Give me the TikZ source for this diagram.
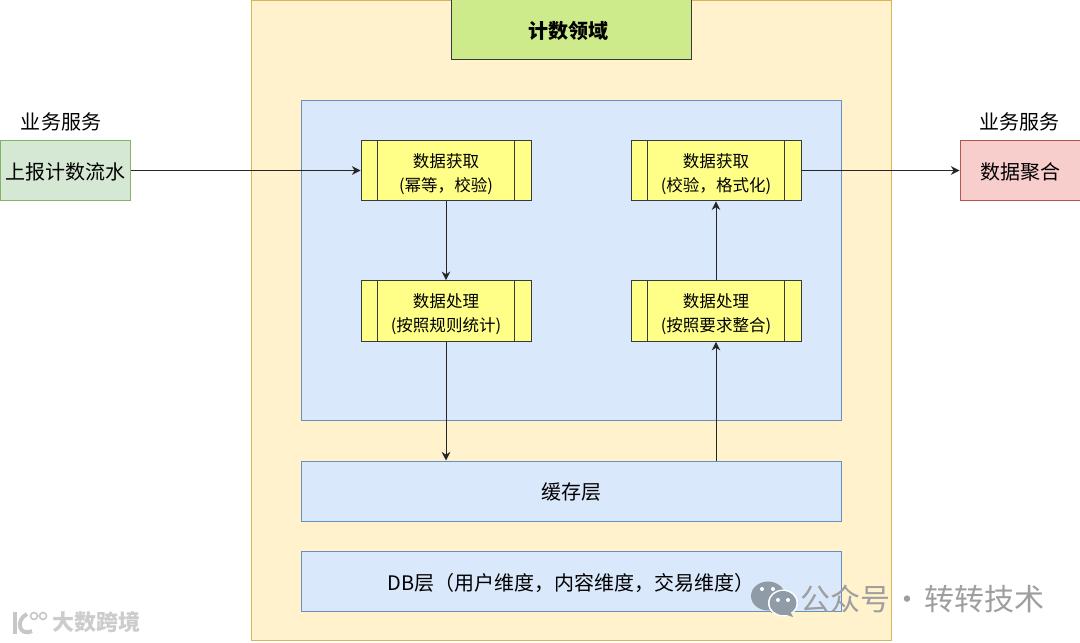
\documentclass[tikz,border=0pt]{standalone}
\usepackage{fontspec}
\setmainfont{Noto Sans CJK SC}
\usepackage{xcolor}
\usetikzlibrary{arrows.meta, calc}

\definecolor{outerfill}{HTML}{FFF2CC}
\definecolor{outerline}{HTML}{D6B656}
\definecolor{bluefill}{HTML}{DAE8FC}
\definecolor{blueline}{HTML}{6C8EBF}
\definecolor{limefill}{HTML}{CDEB8B}
\definecolor{darkline}{HTML}{36393D}
\definecolor{stepfill}{HTML}{FFFF88}
\definecolor{greenfill}{HTML}{D5E8D4}
\definecolor{greenline}{HTML}{82B366}
\definecolor{redfill}{HTML}{F8CECC}
\definecolor{redline}{HTML}{B85450}
\definecolor{markgray}{HTML}{8F9BA6}

\newcommand{\lowered}[2]{\raisebox{-#1pt}[\height][\depth]{#2}}

\tikzset{
    box/.style={draw, line width=0.75pt, inner sep=0pt, align=center, font=\fontsize{15}{18}\selectfont},
    bluebox/.style={box, fill=bluefill, draw=blueline},
    stepbox/.style={box, fill=stepfill, draw=darkline, minimum width=127.5pt, minimum height=45.5pt},
    steptext/.style={inner sep=0pt, align=center, font=\fontsize{12.4}{18}\selectfont},
    sidebox/.style={box, minimum height=45pt},
    flow/.style={line width=0.75pt, draw=black!85, -{Stealth[length=6.5pt, width=6.5pt]}},
    sidelabel/.style={font=\fontsize{15}{18}\selectfont, inner sep=0pt},
}

\begin{document}
\begin{tikzpicture}[x=0.75pt, y=-0.75pt]
    \useasboundingbox (0,0) rectangle (1080,642);

    % Domain panel and title
    \node[box, fill=outerfill, draw=outerline, minimum width=480pt, minimum height=480.5pt] (domain) at (571,320.5) {};
    \node[box, fill=limefill, draw=darkline, minimum width=180pt, minimum height=45pt, font=\fontsize{15}{18}\selectfont\bfseries] (title) at (571,30) {\hspace*{-4.5pt}\lowered{0.75}{计数领域}};

    % Inner panel and storage layers
    \node[bluebox, minimum width=405pt, minimum height=240pt] (inner) at (571,260) {};
    \node[bluebox, minimum width=405pt, minimum height=45pt] (cache) at (571,491) {\lowered{0.75}{缓存层}};
    \node[bluebox, minimum width=405pt, minimum height=45pt] (db) at (571,581) {\lowered{1.75}{DB层（用户维度，内容维度，交易维度）}};

    % Process boxes
    \foreach \name/\x/\y/\first/\second in {
        fetchin/446/170.5/数据获取/(幂等，校验),
        statin/446/311/数据处理/(按照规则统计),
        fetchout/716/170.5/数据获取/(校验，格式化),
        statout/716/311/数据处理/(按照要求整合)} {
        \node[stepbox] (\name) at (\x,\y) {};
        \node[steptext] (\name text) at (\x,\y+3.5) {\first\\\second};
        \draw[darkline, line width=0.75pt] ($(\name.north west)+(17,0)$) -- ($(\name.south west)+(17,0)$);
        \draw[darkline, line width=0.75pt] ($(\name.north east)+(-17,0)$) -- ($(\name.south east)+(-17,0)$);
    }

    % Services on both sides
    \node[sidebox, fill=greenfill, draw=greenline, minimum width=97pt] (report) at (65.5,170.5) {\lowered{0.75}{上报计数流水}};
    \node[sidebox, fill=redfill, draw=redline, minimum width=90pt] (merge) at (1020,170.5) {\lowered{0.75}{数据聚合}};
    \node[sidelabel] (reportlabel) at (61,122) {业务服务};
    \node[sidelabel] (mergelabel) at (1019,122) {业务服务};

    % Flow
    \draw[flow] (report.east) -- (fetchin.west);
    \draw[flow] (fetchin.south) -- (statin.north);
    \draw[flow] (statin.south) -- (statin.south |- cache.north);
    \draw[flow] (statout.south |- cache.north) -- (statout.south);
    \draw[flow] (statout.north) -- (fetchout.south);
    \draw[flow] (fetchout.east) -- (merge.west);

    % Watermarks
    \fill[markgray] (768,596) ellipse (17 and 14.5);
    \fill[markgray] (778,611) -- (771,613) -- (772,605) -- cycle;
    \fill[white] (783,603) ellipse (15 and 13.5);
    \fill[markgray] (783,603) ellipse (13.5 and 12);
    \fill[markgray] (790,611) -- (793,617) -- (784,614) -- cycle;
    \foreach \x/\y in {762/589, 773/589, 778/600, 788/600} {
        \fill[white] (\x,\y) circle (2);
    }
    \node[font=\fontsize{22.5}{24}\selectfont, text=black!38, inner sep=0pt, anchor=west] (brand) at (800,599) {公众号\makebox[26pt]{·}转转技术};
    \draw[black!22, line width=3pt] (15,612) -- (15,634);
    \draw[black!22, line width=3pt] (32,631) .. controls (19,637) and (15,620) .. (27,614);
    \draw[black!22, line width=1.2pt] (34,616) circle (3.5) (43,616) circle (3.5);
    \node[font=\fontsize{16.5}{18}\selectfont\bfseries, text=black!20, inner sep=0pt, anchor=west] (site) at (52,622) {大数跨境};
\end{tikzpicture}
\end{document}
